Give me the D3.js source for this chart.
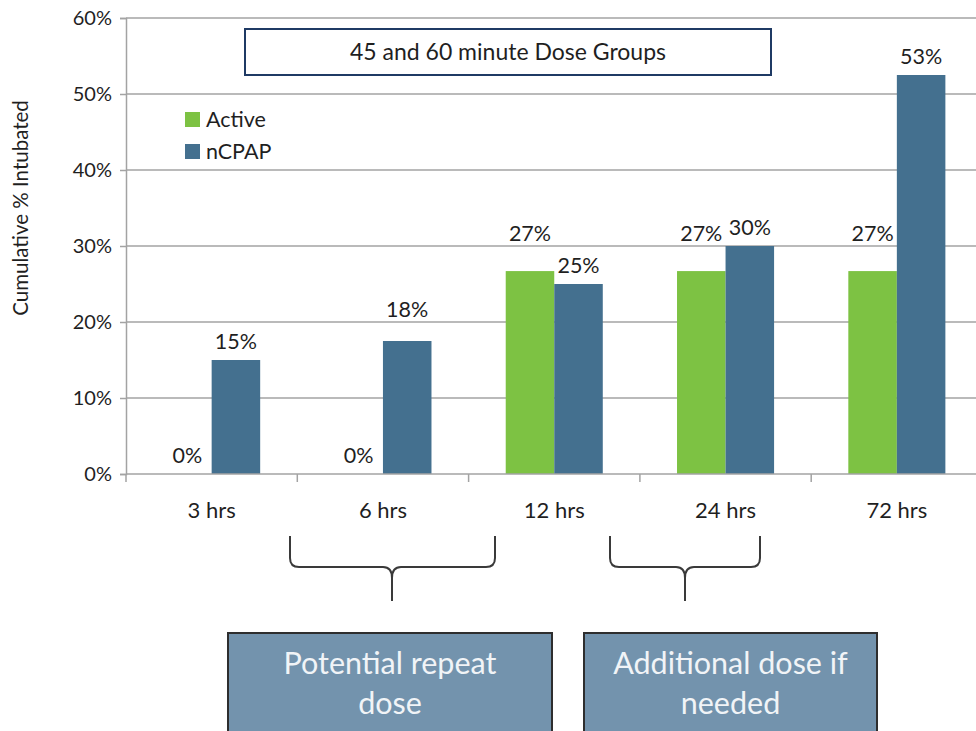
<!DOCTYPE html>
<html>
<head>
<meta charset="utf-8">
<script src="https://cdn.jsdelivr.net/npm/d3@7"></script>
<style>
  html, body { margin: 0; padding: 0; background: #ffffff; }
  svg { display: block; font-family: Lato, "Open Sans", sans-serif; }
</style>
</head>
<body>
<svg id="chart" width="976" height="731"></svg>
<script>
// ---- data ----
const categories = ["3 hrs", "6 hrs", "12 hrs", "24 hrs", "72 hrs"];
const seriesNames = ["Active", "nCPAP"];
const activeValues = [0, 0, 26.7, 26.7, 26.7];
const ncpapValues = [15, 17.5, 25, 30, 52.5];
const yTickValues = [0, 10, 20, 30, 40, 50, 60];
const chartTitle = "45 and 60 minute Dose Groups";
const yAxisTitle = "Cumulative % Intubated";
const noteLines = [["Potential repeat", "dose"], ["Additional dose if", "needed"]];

// ---- layout ----
const W = 976, H = 731;
const plot = { left: 126, right: 982.5, top: 18, bottom: 474 };
const colors = { Active: "#7dc243", nCPAP: "#44708f" };
const textColor = "#1f1f1f";
const gridColor = "#a3a3a3";

const svg = d3.select("#chart");

const x0 = d3.scaleBand().domain(categories).range([plot.left, plot.right]).padding(0);
const x1 = d3.scaleBand().domain(seriesNames).range([0, x0.bandwidth()])
  .paddingInner(0).paddingOuter(0.765);
const y = d3.scaleLinear().domain([0, 60]).range([plot.bottom, plot.top]);

// gridlines
svg.append("g").selectAll("line")
  .data(yTickValues.filter(v => v > 0))
  .join("line")
  .attr("x1", plot.left).attr("x2", plot.right)
  .attr("y1", d => y(d)).attr("y2", d => y(d))
  .attr("stroke", gridColor).attr("stroke-width", 1.5);

// y axis
const yAxis = d3.axisLeft(y).tickValues(yTickValues).tickSize(6).tickPadding(8)
  .tickFormat(d => d + "%");
const gy = svg.append("g").attr("transform", `translate(${plot.left},0)`).call(yAxis);
gy.select(".domain").attr("stroke", gridColor).attr("stroke-width", 1.5);
gy.selectAll(".tick line").attr("stroke", gridColor).attr("stroke-width", 1.5);
gy.selectAll(".tick text").attr("fill", textColor).attr("font-size", 20)
  .attr("font-family", "Lato, sans-serif");

// bars
const rows = categories.map((c, i) => ({
  cat: c,
  values: [
    { key: "Active", value: activeValues[i] },
    { key: "nCPAP", value: ncpapValues[i] }
  ]
}));

const groups = svg.append("g").selectAll("g")
  .data(rows).join("g")
  .attr("transform", d => `translate(${x0(d.cat)},0)`);

groups.selectAll("rect")
  .data(d => d.values).join("rect")
  .attr("x", d => x1(d.key))
  .attr("width", x1.bandwidth())
  .attr("y", d => y(d.value))
  .attr("height", d => y(0) - y(d.value))
  .attr("fill", d => colors[d.key]);

// value labels: sit just above each bar, lifted over a gridline they would cross
const capH = 15;
function labelBaseline(v) {
  let b = y(v) - 11;
  yTickValues.forEach(t => {
    if (t === 0) return;
    const gyPos = y(t);
    if (gyPos >= b - capH - 3 && gyPos <= b + 3) b = Math.min(b, gyPos - 5);
  });
  return b;
}
groups.selectAll("text.val")
  .data(d => d.values).join("text")
  .attr("class", "val")
  .attr("x", d => x1(d.key) + x1.bandwidth() / 2)
  .attr("y", d => labelBaseline(d.value))
  .attr("text-anchor", "middle")
  .attr("font-size", 21.5)
  .attr("fill", textColor)
  .text(d => Math.round(d.value) + "%");

// x axis
const xAxisG = svg.append("g");
xAxisG.append("line")
  .attr("x1", plot.left).attr("x2", plot.right)
  .attr("y1", y(0)).attr("y2", y(0))
  .attr("stroke", gridColor).attr("stroke-width", 1.5);
xAxisG.selectAll("line.tk")
  .data(categories.map(c => x0(c)).concat([plot.right]))
  .join("line").attr("class", "tk")
  .attr("x1", d => d).attr("x2", d => d)
  .attr("y1", y(0)).attr("y2", y(0) + 8)
  .attr("stroke", gridColor).attr("stroke-width", 1.5);
xAxisG.selectAll("text")
  .data(categories).join("text")
  .attr("x", d => x0(d) + x0.bandwidth() / 2)
  .attr("y", 518)
  .attr("text-anchor", "middle")
  .attr("font-size", 22)
  .attr("fill", textColor)
  .text(d => d);

// y axis title
svg.append("text")
  .attr("transform", "translate(28,208) rotate(-90)")
  .attr("text-anchor", "middle")
  .attr("font-size", 20.5)
  .attr("fill", textColor)
  .text(yAxisTitle);

// title box
svg.append("rect")
  .attr("x", 245).attr("y", 29).attr("width", 526).attr("height", 46)
  .attr("fill", "#ffffff").attr("stroke", "#1f3a64").attr("stroke-width", 2);
svg.append("text")
  .attr("x", 508).attr("y", 60)
  .attr("text-anchor", "middle")
  .attr("font-size", 23)
  .attr("fill", textColor)
  .text(chartTitle);

// legend
const legend = svg.append("g").selectAll("g")
  .data(seriesNames).join("g")
  .attr("transform", (d, i) => `translate(185,${112 + i * 32})`);
legend.append("rect")
  .attr("width", 15).attr("height", 15)
  .attr("fill", d => colors[d]);
legend.append("text")
  .attr("x", 21).attr("y", 15)
  .attr("font-size", 21.5)
  .attr("fill", textColor)
  .text(d => d);

// braces under the time axis
function bracePath(xl, xr, xm, top, mid, bottom) {
  const r = 9;
  return `M${xl},${top} V${mid - r} Q${xl},${mid} ${xl + r},${mid} H${xm - r} ` +
         `Q${xm},${mid} ${xm},${mid + r + 2} V${bottom} ` +
         `M${xm},${mid + r + 2} Q${xm},${mid} ${xm + r},${mid} H${xr - r} ` +
         `Q${xr},${mid} ${xr},${mid - r} V${top}`;
}
const braces = [
  { xl: 290, xr: 495, xm: 392 },
  { xl: 610, xr: 760, xm: 685 }
];
svg.append("g").selectAll("path")
  .data(braces).join("path")
  .attr("d", d => bracePath(d.xl, d.xr, d.xm, 536, 567, 601))
  .attr("fill", "none")
  .attr("stroke", "#3a3a3a")
  .attr("stroke-width", 2);

// note boxes
const notes = [
  { x: 228, w: 324, lines: noteLines[0] },
  { x: 584, w: 293, lines: noteLines[1] }
];
const noteG = svg.append("g").selectAll("g")
  .data(notes).join("g");
noteG.append("rect")
  .attr("x", d => d.x).attr("y", 633)
  .attr("width", d => d.w).attr("height", 130)
  .attr("fill", "#7393ad")
  .attr("stroke", "#2e2e2e").attr("stroke-width", 2);
noteG.each(function(d) {
  d3.select(this).selectAll("text")
    .data(d.lines).join("text")
    .attr("x", d.x + d.w / 2)
    .attr("y", (t, i) => 674 + i * 40)
    .attr("text-anchor", "middle")
    .attr("font-size", 30.5)
    .attr("fill", "#f1f4f7")
    .text(t => t);
});
</script>
</body>
</html>
